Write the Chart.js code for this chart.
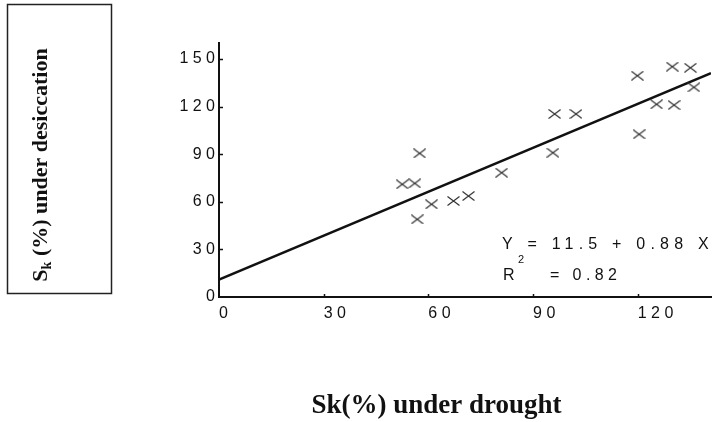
<!DOCTYPE html>
<html><head><meta charset="utf-8">
<script src="https://cdn.jsdelivr.net/npm/chart.js@4/dist/chart.umd.min.js"></script>
<style>html,body{margin:0;padding:0;background:#fff}#wrap{width:718px;height:422px;position:relative}</style>
</head><body><div id="wrap"><canvas id="c" width="718" height="422"></canvas></div>
<script>
// ---- data ----
const drought     = [52.5, 56.1, 57.5, 56.8, 60.9, 67.2, 71.5, 81.0, 95.7, 96.2, 102.3, 120.4, 119.9, 125.4, 130.4, 129.9, 135.1, 136.1];
const desiccation = [71.0, 71.6, 90.5, 48.9, 58.4, 60.5, 63.6, 78.3, 90.9, 115.3, 115.3, 102.5, 139.4, 121.4, 120.9, 145.1, 144.4, 132.1];
const fitX = [0, 141];
const fitY = [11, 141];
const xTicks = [0, 30, 60, 90, 120];
const yTicks = [0, 30, 60, 90, 120, 150];
const xMax = 141, yMax = 160;
const equationText = 'Y = 11.5 + 0.88 X';
const r2Label = 'R', r2Sup = '2', r2Value = '= 0.82';
const xTitle = 'Sk(%) under drought';
const yTitleMain = 'S', yTitleSub = 'k', yTitleRest = ' (%) under desiccation';

const spaced = v => String(v).split('').join(' ');

// X-shaped marker (slightly wider than tall)
const mark = document.createElement('canvas');
mark.width = 13; mark.height = 10;
(function(){
  const m = mark.getContext('2d');
  m.strokeStyle = '#333'; m.lineWidth = 1.2;
  m.beginPath();
  m.moveTo(0.5, 0.5); m.lineTo(12.5, 9.5);
  m.moveTo(0.5, 9.5); m.lineTo(12.5, 0.5);
  m.stroke();
})();

const scatterData = drought.map((x, i) => ({x, y: desiccation[i]}));
const fitData = fitX.map((x, i) => ({x, y: fitY[i]}));

const decor = {
  id: 'decor',
  afterDraw(chart) {
    const ctx = chart.ctx;
    const xs = chart.scales.x, ys = chart.scales.y;
    ctx.save();
    // inward tick marks
    ctx.strokeStyle = '#111'; ctx.lineWidth = 1.5;
    ctx.beginPath();
    yTicks.forEach(v => {
      const py = Math.round(ys.getPixelForValue(v)) + 0.5;
      if (v !== 0) { ctx.moveTo(xs.left, py); ctx.lineTo(xs.left + 4, py); }
    });
    xTicks.forEach(v => {
      const px = Math.round(xs.getPixelForValue(v)) + 0.5;
      if (v !== 0) { ctx.moveTo(px, ys.bottom); ctx.lineTo(px, ys.bottom - 3); }
    });
    ctx.stroke();

    // equation text
    ctx.fillStyle = '#111';
    ctx.textBaseline = 'alphabetic';
    ctx.textAlign = 'left';
    ctx.font = '16px "Liberation Sans", Arial, sans-serif';
    ctx.letterSpacing = '5.2px';
    ctx.fillText(equationText, 502, 249);
    ctx.letterSpacing = '0px';
    ctx.fillText(r2Label, 503, 280);
    ctx.font = '11px "Liberation Sans", Arial, sans-serif';
    ctx.fillText(r2Sup, 518, 263);
    ctx.font = '16px "Liberation Sans", Arial, sans-serif';
    ctx.letterSpacing = '4.4px';
    ctx.fillText(r2Value, 550, 280);
    ctx.letterSpacing = '0px';

    // x title
    ctx.font = 'bold 27px "Liberation Serif", "Times New Roman", serif';
    ctx.textAlign = 'center';
    ctx.fillText(xTitle, 436.5, 413);

    // y title box
    ctx.strokeStyle = '#222'; ctx.lineWidth = 1.5;
    ctx.strokeRect(7.5, 4.5, 104, 289);

    // y title rotated
    ctx.textAlign = 'left';
    const fMain = 'bold 22px "Liberation Serif", "Times New Roman", serif';
    const fSub = 'bold 14px "Liberation Serif", "Times New Roman", serif';
    ctx.font = fMain; const w1 = ctx.measureText(yTitleMain).width;
    const w3 = ctx.measureText(yTitleRest).width;
    ctx.font = fSub; const w2 = ctx.measureText(yTitleSub).width;
    const total = w1 + w2 + w3;
    ctx.translate(47, 165);
    ctx.rotate(-Math.PI / 2);
    let u = -total / 2;
    ctx.font = fMain; ctx.fillText(yTitleMain, u, 0); u += w1;
    ctx.font = fSub; ctx.fillText(yTitleSub, u, 4); u += w2;
    ctx.font = fMain; ctx.fillText(yTitleRest, u, 0);
    ctx.restore();
  }
};

new Chart(document.getElementById('c'), {
  type: 'scatter',
  data: {
    datasets: [
      {
        type: 'line',
        data: fitData,
        borderColor: '#111',
        borderWidth: 2.5,
        pointRadius: 0,
        fill: false,
        order: 2
      },
      {
        data: scatterData,
        pointStyle: mark,
        pointRadius: 6,
        order: 1
      }
    ]
  },
  options: {
    responsive: false,
    animation: false,
    events: [],
    layout: { padding: { top: 43, right: 4, left: 0, bottom: 0 } },
    plugins: { legend: { display: false }, tooltip: { enabled: false } },
    scales: {
      x: {
        type: 'linear', min: 0, max: xMax,
        grid: { display: false, drawTicks: false },
        border: { display: true, color: '#111', width: 2 },
        afterBuildTicks: s => { s.ticks = xTicks.map(v => ({value: v})); },
        afterFit: s => { s.height = 125; },
        ticks: {
          align: 'start', padding: 7, color: '#111', maxRotation: 0,
          font: { family: '"Liberation Sans", Arial, sans-serif', size: 16 },
          callback: v => spaced(v)
        }
      },
      y: {
        type: 'linear', min: 0, max: yMax,
        grid: { display: false, drawTicks: false },
        border: { display: true, color: '#111', width: 2 },
        afterBuildTicks: s => { s.ticks = yTicks.map(v => ({value: v})); },
        afterFit: s => { s.width = 219; },
        ticks: {
          padding: 4, color: '#111',
          font: { family: '"Liberation Sans", Arial, sans-serif', size: 16 },
          callback: v => spaced(v)
        }
      }
    }
  },
  plugins: [decor]
});
</script>
</body></html>
